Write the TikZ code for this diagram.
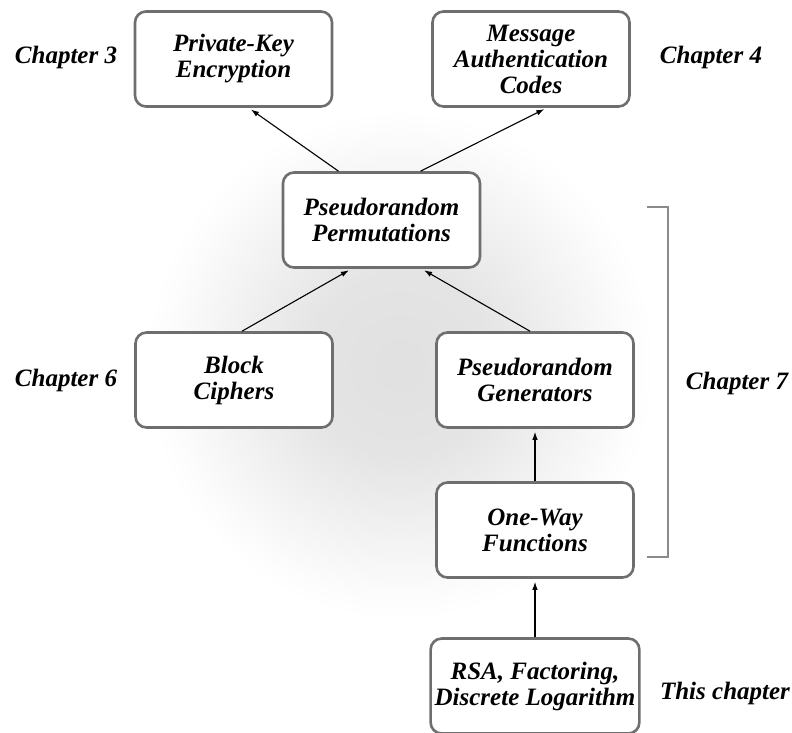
\documentclass[tikz,border=0pt]{standalone}
\usepackage{fontspec}
\setmainfont{Liberation Serif}
\usetikzlibrary{arrows.meta}
\definecolor{boxline}{HTML}{6E6E6E}
\definecolor{bracketline}{HTML}{8A8A8A}
% soft glow: flat light grey core fading out to white
\pgfdeclareradialshading{softglow}{\pgfpointorigin}{%
  color(0bp)=(black!12); color(9bp)=(black!10.5); color(17bp)=(black!5);
  color(23bp)=(black!1); color(25bp)=(white); color(50bp)=(white)}
\begin{document}
\begin{tikzpicture}[x=1pt,y=-1pt,
  topic/.style={draw=boxline, line width=2.6pt, rounded corners=11pt, fill=white,
    minimum width=197pt, minimum height=95pt, inner sep=4pt, align=center,
    font=\fontsize{25}{26}\selectfont\bfseries\itshape},
  chap/.style={font=\fontsize{25}{26}\selectfont\bfseries\itshape},
  link/.style={line width=1.1pt, -{Latex[length=8pt,width=5.5pt]}, shorten >=3pt}]
\useasboundingbox (0,0) rectangle (792,733);

% soft grey glow behind the middle of the diagram
\shade[shading=softglow] (400,365) circle (255);

% topic boxes
\node[topic] (pk)  at (233.5,59) {Private-Key\\Encryption};
\node[topic] (mac) at (531,59)   {Message\\Authentication\\Codes};
\node[topic] (prp) at (381.5,220) {Pseudorandom\\Permutations};
\node[topic] (bc)  at (234,380)  {Block\\Ciphers};
\node[topic] (prg) at (535,380)  {Pseudorandom\\Generators};
\node[topic] (owf) at (535,530)  {One-Way\\Functions};
\node[topic] (rsa) at (535,686)  {RSA, Factoring,\\Discrete Logarithm};

% chapter labels
\node[chap] (c3) at (66,57)   {Chapter 3};
\node[chap] (c4) at (711,57)  {Chapter 4};
\node[chap] (c6) at (66,380)  {Chapter 6};
\node[chap] (c7) at (737,383) {Chapter 7};
\node[chap] (ct) at (725,693) {This chapter};

% dependencies
\draw[link] ([xshift=-43pt]prp.north) -- ([xshift=15pt]pk.south);
\draw[link] ([xshift=39pt]prp.north)  -- ([xshift=16pt]mac.south);
\draw[link] ([xshift=8pt]bc.north)    -- ([xshift=-30pt]prp.south);
\draw[link] ([xshift=-5pt]prg.north)  -- ([xshift=40pt]prp.south);
\draw[link] (owf.north) -- (prg.south);
\draw[link] (rsa.north) -- (owf.south);

% bracket grouping the chapter 7 topics
\coordinate (b1) at (647,207);
\coordinate (b2) at (668,207);
\coordinate (b3) at (668,557);
\coordinate (b4) at (647,557);
\draw[bracketline, line width=1.3pt] (b1) -- (b2) -- (b3) -- (b4);
\end{tikzpicture}
\end{document}
